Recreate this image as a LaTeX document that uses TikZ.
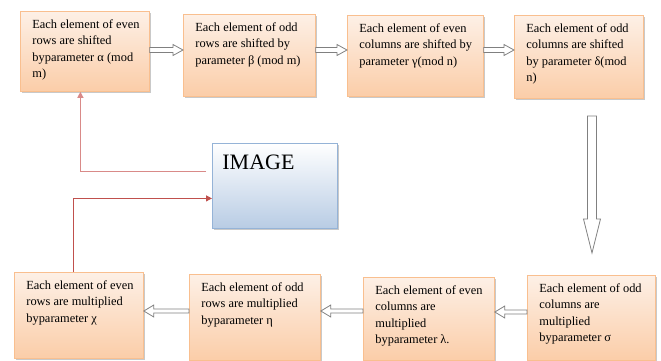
\documentclass[tikz,border=0pt]{standalone}
\usepackage{fontspec}
\setmainfont{Liberation Serif}
\usetikzlibrary{arrows.meta,calc,shadows}
\definecolor{boxborder}{HTML}{F9BF8F}
\definecolor{boxtop}{HTML}{FDF0E6}
\definecolor{boxbot}{HTML}{FBCDA8}
\definecolor{imgborder}{HTML}{95B3D7}
\definecolor{imgbot}{HTML}{B8CCE4}
\definecolor{redA}{HTML}{C0504D}
\definecolor{redB}{HTML}{D98A88}
\definecolor{arrowgray}{HTML}{808080}
\newcommand\boxtxt[3]{\parbox[c][#2][t]{#1}{\vspace*{6pt}\hspace*{12pt}\begin{tabular}[t]{@{}l@{}}#3\end{tabular}}}
\newcommand\rarr[3]{\draw[blockarrow] let \p1=(#1), \p2=(#2), \p3=(0,#3) in
  (\x1,\y3+2.5pt) -- (\x2-10pt,\y3+2.5pt) -- (\x2-10pt,\y3+5.5pt) -- (\x2,\y3) --
  (\x2-10pt,\y3-5.5pt) -- (\x2-10pt,\y3-2.5pt) -- (\x1,\y3-2.5pt) -- cycle;}
\newcommand\larr[3]{\draw[blockarrow] let \p1=(#1), \p2=(#2), \p3=(0,#3) in
  (\x1,\y3+2pt) -- (\x2+10pt,\y3+2pt) -- (\x2+10pt,\y3+6pt) -- (\x2,\y3) --
  (\x2+10pt,\y3-6pt) -- (\x2+10pt,\y3-2pt) -- (\x1,\y3-2pt) -- cycle;}
\begin{document}
\begin{tikzpicture}[x=1pt,y=-1pt,
  box/.style={draw=boxborder, line width=0.8pt, top color=boxtop, bottom color=boxbot,
    anchor=north west, inner sep=0pt, font=\fontsize{12.4}{16.2}\selectfont,
    drop shadow={shadow xshift=1.5pt, shadow yshift=-1.5pt, opacity=0.3, fill=black!70}},
  imgbox/.style={draw=imgborder, line width=0.8pt, top color=white, bottom color=imgbot,
    anchor=north west, inner sep=0pt, font=\fontsize{22}{24}\selectfont,
    drop shadow={shadow xshift=1.5pt, shadow yshift=-1.5pt, opacity=0.3, fill=black!70}},
  blockarrow/.style={draw=arrowgray, fill=white, line width=0.8pt, line join=miter},
  redline/.style={line width=1.1pt, -{Triangle[length=6pt,width=6pt]}}]
\useasboundingbox (0,0) rectangle (661,361);

\node[box] (b1) at (20,11) {\boxtxt{129pt}{80pt}{Each element of even\\rows are shifted\\byparameter α (mod\\m)}};
\node[box] (b2) at (183,14) {\boxtxt{132pt}{82pt}{Each element of odd\\rows are shifted by\\parameter β (mod m)}};
\node[box] (b3) at (347,15) {\boxtxt{136pt}{81pt}{Each element of even\\columns are shifted by\\parameter γ(mod n)}};
\node[box] (b4) at (514,15) {\boxtxt{129pt}{83pt}{Each element of odd\\columns are shifted\\by parameter δ(mod\\n)}};

\node[box] (b5) at (14,272) {\boxtxt{129pt}{86pt}{Each element of even\\rows are multiplied\\byparameter χ}};
\node[box] (b6) at (189,274) {\boxtxt{131pt}{86pt}{Each element of odd\\rows are multiplied\\byparameter η}};
\node[box] (b7) at (363,277) {\boxtxt{131pt}{83pt}{Each element of even\\columns are\\multiplied\\byparameter λ.}};
\node[box] (b8) at (527,275) {\boxtxt{128pt}{85pt}{Each element of odd\\columns are\\multiplied\\byparameter σ}};

\node[imgbox] (img) at (212,143) {\parbox[c][85pt][t]{125pt}{\vspace*{12pt}\hspace*{10pt}IMAGE}};

\rarr{b1.east}{b2.west}{50}
\rarr{b2.east}{b3.west}{50}
\rarr{b3.east}{b4.west}{50}

\coordinate (dtop) at (592,116);
\coordinate (dbot) at (592,253);
\draw[blockarrow] let \p1=(dtop), \p2=(dbot) in
  (\x1-4.5pt,\y1) -- (\x1+4.5pt,\y1) -- (\x1+4.5pt,\y2+34pt) -- (\x1+8.5pt,\y2+34pt) --
  (\x2,\y2) -- (\x1-8.5pt,\y2+34pt) -- (\x1-4.5pt,\y2+34pt) -- cycle;

\larr{b8.west}{b7.east}{312}
\larr{b7.west}{b6.east}{311}
\larr{b6.west}{b5.east}{311}

\draw[redline, draw=redB] ($(img.west)+(-6,-14.5)$) -| ([xshift=-4.5pt]b1.south);
\draw[redline, draw=redA] ([xshift=-5.5pt]b5.north) |- ($(img.west)+(0,12.5)$);
\end{tikzpicture}
\end{document}
